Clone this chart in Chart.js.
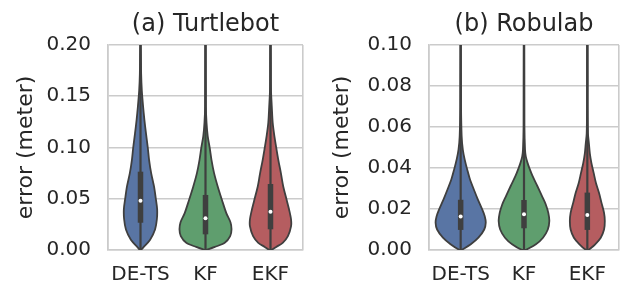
<!DOCTYPE html>
<html>
<head>
<meta charset="utf-8">
<script src="https://cdn.jsdelivr.net/npm/chart.js@4.4.1/dist/chart.umd.min.js"></script>
<style>
  body { margin: 0; background: #fff; }
  canvas { position: absolute; top: 0; }
</style>
</head>
<body>
<canvas id="turtlebotChart" width="316" height="287" style="left:0"></canvas>
<canvas id="robulabChart" width="316" height="287" style="left:316px"></canvas>
<script>
const categories = ['DE-TS', 'KF', 'EKF'];

// violin outlines: [error, relative density]
const turtlebotDETS = [[0,0.02],[0.0025,0.11],[0.01,0.37],[0.02,0.56],[0.03,0.63],[0.04,0.64],[0.05,0.59],[0.062,0.52],[0.075,0.41],[0.088,0.33],[0.10,0.28],[0.114,0.21],[0.127,0.15],[0.14,0.10],[0.156,0.05],[0.172,0.025],[0.20,0.01]];
const turtlebotKF = [[0,0.02],[0.003,0.36],[0.007,0.74],[0.0135,0.95],[0.02,1.0],[0.027,0.96],[0.036,0.80],[0.049,0.63],[0.062,0.47],[0.075,0.33],[0.088,0.23],[0.10,0.16],[0.111,0.085],[0.124,0.04],[0.14,0.015],[0.20,0.01]];
const turtlebotEKF = [[0,0.04],[0.003,0.22],[0.007,0.47],[0.0135,0.67],[0.023,0.79],[0.03,0.79],[0.04,0.71],[0.049,0.62],[0.062,0.49],[0.075,0.40],[0.088,0.30],[0.10,0.22],[0.111,0.15],[0.124,0.085],[0.14,0.05],[0.156,0.02],[0.20,0.01]];

const robulabDETS = [[0,0.04],[0.0028,0.40],[0.006,0.70],[0.010,0.93],[0.0133,0.99],[0.0165,0.95],[0.0198,0.85],[0.0246,0.68],[0.0295,0.52],[0.0344,0.37],[0.0392,0.26],[0.0441,0.16],[0.049,0.085],[0.0554,0.04],[0.07,0.015],[0.10,0.01]];
const robulabKF = [[0,0.07],[0.0028,0.47],[0.006,0.75],[0.010,0.94],[0.0141,1.0],[0.0181,0.96],[0.0222,0.86],[0.0263,0.71],[0.0311,0.53],[0.036,0.34],[0.0397,0.22],[0.0425,0.14],[0.0457,0.07],[0.049,0.04],[0.06,0.015],[0.10,0.01]];
const robulabEKF = [[0,0.05],[0.0028,0.31],[0.006,0.53],[0.010,0.66],[0.0141,0.69],[0.0181,0.66],[0.023,0.56],[0.0279,0.46],[0.0327,0.34],[0.0376,0.25],[0.0425,0.16],[0.047,0.10],[0.0519,0.063],[0.0567,0.026],[0.07,0.012],[0.10,0.01]];

// inner box plots
const turtlebotQ1 = [0.0266, 0.0153, 0.0202];
const turtlebotMedian = [0.048, 0.031, 0.0374];
const turtlebotQ3 = [0.0764, 0.0537, 0.0644];
const turtlebotWhiskerHigh = [0.20, 0.20, 0.20];

const robulabQ1 = [0.0098, 0.0106, 0.0098];
const robulabMedian = [0.0163, 0.0174, 0.0171];
const robulabQ3 = [0.0245, 0.0244, 0.028];
const robulabWhiskerHigh = [0.10, 0.10, 0.10];

const turtlebotTicks = [0, 0.05, 0.10, 0.15, 0.20];
const robulabTicks = [0, 0.02, 0.04, 0.06, 0.08, 0.10];

const colors = ['#5975a4', '#5f9e6e', '#b55d60'];
const edge = '#3f3f3f';
const gridColor = '#cbcbcb';
const textColor = '#262626';
const fontFamily = '"DejaVu Sans", sans-serif';

function violinPath(profile, i) {
  const halfWidth = 0.4; // widest violin
  const right = profile.map(p => ({ x: i + p[1] * halfWidth, y: p[0] }));
  const left = profile.slice().reverse().map(p => ({ x: i - p[1] * halfWidth, y: p[0] }));
  const pts = right.concat(left);
  pts.push(pts[0]);
  return pts;
}

function makeChart(id, opts) {
  const datasets = [];
  opts.violins.forEach((profile, i) => {
    datasets.push({
      data: violinPath(profile, i),
      showLine: true,
      fill: 'shape',
      backgroundColor: colors[i],
      borderColor: edge,
      borderWidth: 1.8,
      tension: 0.3,
      pointRadius: 0,
      order: 3
    });
    // whisker
    datasets.push({
      data: [{ x: i, y: 0 }, { x: i, y: opts.whiskerHigh[i] }],
      showLine: true,
      borderColor: edge,
      borderWidth: 2.2,
      pointRadius: 0,
      order: 2
    });
    // box
    datasets.push({
      data: [{ x: i, y: opts.q1[i] }, { x: i, y: opts.q3[i] }],
      showLine: true,
      borderColor: edge,
      borderWidth: 5.5,
      borderCapStyle: 'butt',
      pointRadius: 0,
      order: 1
    });
    // median
    datasets.push({
      data: [{ x: i, y: opts.median[i] }],
      pointRadius: 2,
      pointBackgroundColor: '#ffffff',
      pointBorderWidth: 0,
      order: 0
    });
  });

  new Chart(document.getElementById(id), {
    type: 'scatter',
    data: { datasets: datasets },
    options: {
      responsive: false,
      animation: false,
      layout: { padding: { left: 0, right: opts.padRight, top: 0, bottom: 0 } },
      plugins: {
        legend: { display: false },
        tooltip: { enabled: false },
        title: {
          display: true,
          text: opts.title,
          fullSize: false,
          color: textColor,
          font: { family: fontFamily, size: 24, weight: 'normal', lineHeight: 1.2 },
          padding: { top: 10, bottom: 6.2 }
        }
      },
      scales: {
        x: {
          type: 'linear',
          min: -0.5,
          max: 2.5,
          afterBuildTicks: scale => {
            scale.ticks = [-0.5, 0, 1, 2, 2.5].map(v => ({ value: v }));
          },
          afterFit: scale => { scale.height = 37; },
          grid: {
            drawTicks: false,
            lineWidth: 1.6,
            color: ctx => (ctx.tick && (ctx.tick.value === -0.5 || ctx.tick.value === 2.5)) ? gridColor : 'rgba(0,0,0,0)'
          },
          border: { display: true, color: gridColor, width: 1.6 },
          ticks: {
            autoSkip: false,
            maxRotation: 0,
            padding: 13,
            color: textColor,
            font: { family: fontFamily, size: 20 },
            callback: v => categories[v] || ''
          }
        },
        y: {
          min: 0,
          max: opts.yMax,
          afterBuildTicks: scale => {
            scale.ticks = opts.yTicks.map(v => ({ value: v }));
          },
          afterFit: scale => { scale.width = opts.yWidth; },
          grid: { drawTicks: false, color: gridColor, lineWidth: 1.6 },
          border: { display: true, color: gridColor, width: 1.6 },
          ticks: {
            padding: 17,
            color: textColor,
            font: { family: fontFamily, size: 20 },
            callback: v => v.toFixed(2)
          },
          title: {
            display: true,
            text: 'error (meter)',
            color: textColor,
            font: { family: fontFamily, size: 22 },
            padding: { top: 13, bottom: 0 }
          }
        }
      }
    }
  });
}

makeChart('turtlebotChart', {
  title: '(a) Turtlebot',
  violins: [turtlebotDETS, turtlebotKF, turtlebotEKF],
  q1: turtlebotQ1, median: turtlebotMedian, q3: turtlebotQ3,
  whiskerHigh: turtlebotWhiskerHigh,
  yMax: 0.20, yTicks: turtlebotTicks,
  yWidth: 108, padRight: 5
});

makeChart('robulabChart', {
  title: '(b) Robulab',
  violins: [robulabDETS, robulabKF, robulabEKF],
  q1: robulabQ1, median: robulabMedian, q3: robulabQ3,
  whiskerHigh: robulabWhiskerHigh,
  yMax: 0.10, yTicks: robulabTicks,
  yWidth: 113, padRight: 1
});
</script>
</body>
</html>
